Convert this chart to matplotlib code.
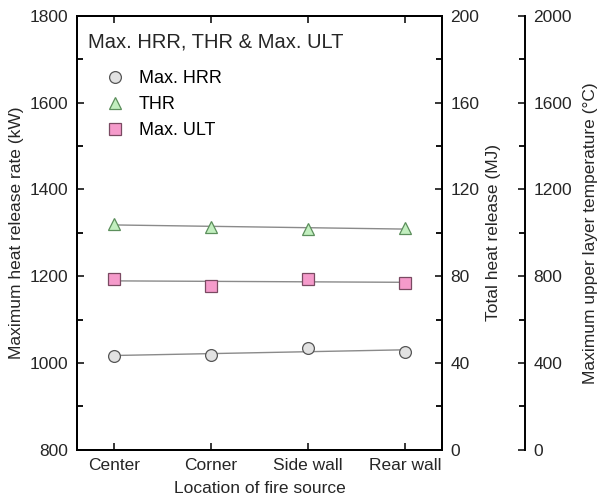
import numpy as np
import matplotlib
matplotlib.use('Agg')
import matplotlib.pyplot as plt
from matplotlib.ticker import MultipleLocator

plt.rcParams['font.family'] = ['Liberation Sans', 'DejaVu Sans']

# data
locations = ['Center', 'Corner', 'Side wall', 'Rear wall']
max_hrr = [1017, 1018, 1035, 1026]   # kW
thr = [104.0, 102.8, 101.8, 102.2]   # MJ
max_ult = [788, 756, 788, 770]       # degC

x = np.arange(len(locations))
txt = '#262626'
fs = 12.5

fig = plt.figure(figsize=(6.0, 4.96), dpi=100)
ax = fig.add_axes([0.128, 0.093, 0.609, 0.875])
ax2 = ax.twinx()
ax3 = ax.twinx()
ax3.spines['right'].set_position(('axes', 1.227))

line_kw = dict(color='#8a8a8a', lw=1.0, zorder=2)

def fit_line(axis, yvals):
    k, b = np.polyfit(x, yvals, 1)
    axis.plot(x, k * x + b, **line_kw)

fit_line(ax, max_hrr)
fit_line(ax2, thr)
fit_line(ax3, max_ult)

h1, = ax.plot(x, max_hrr, 'o', ms=8.5, mfc='#e2e2e2', mec='#555555', mew=0.9,
              ls='none', zorder=3, label='Max. HRR')
h2, = ax2.plot(x, thr, '^', ms=8.5, mfc='#c2efbf', mec='#5c8f5c', mew=0.9,
               ls='none', zorder=3, label='THR')
h3, = ax3.plot(x, max_ult, 's', ms=8.5, mfc='#f59bcb', mec='#7a4a62', mew=0.9,
               ls='none', zorder=3, label='Max. ULT')

ax.set_xlim(-0.38, 3.38)
ax.set_ylim(800, 1800)
ax2.set_ylim(0, 200)
ax3.set_ylim(0, 2000)

ax.set_xticks(x)
ax.set_xticklabels(locations)
ax.yaxis.set_major_locator(MultipleLocator(200))
ax.yaxis.set_minor_locator(MultipleLocator(100))
ax2.yaxis.set_major_locator(MultipleLocator(40))
ax2.yaxis.set_minor_locator(MultipleLocator(20))
ax3.yaxis.set_major_locator(MultipleLocator(400))
ax3.yaxis.set_minor_locator(MultipleLocator(200))

ax.tick_params(axis='x', which='both', direction='in', top=True, length=5,
               width=1.3, labelsize=fs, pad=5.5, colors=txt)
for a in (ax, ax2, ax3):
    a.tick_params(axis='y', which='major', direction='in', length=5, width=1.3,
                  labelsize=fs, pad=6, colors=txt)
    a.tick_params(axis='y', which='minor', direction='in', length=4, width=1.3)
    for s in a.spines.values():
        s.set_linewidth(1.4)
for side in ('left', 'top', 'bottom'):
    ax3.spines[side].set_visible(False)

ax.set_xlabel('Location of fire source', fontsize=fs, labelpad=6, color=txt)
ax.set_ylabel('Maximum heat release rate (kW)', fontsize=fs, labelpad=4, color=txt)
ax2.set_ylabel('Total heat release (MJ)', fontsize=fs, labelpad=5, color=txt)
ax3.set_ylabel('Maximum upper layer temperature (\u00b0C)', fontsize=fs, labelpad=8,
               color=txt)

ax.text(0.03, 0.940, 'Max. HRR, THR & Max. ULT', transform=ax.transAxes,
        fontsize=14.5, ha='left', va='center', color=txt)
ax.legend(handles=[h1, h2, h3], loc='upper left', bbox_to_anchor=(0.081, 0.875),
          frameon=False, fontsize=13, handlelength=1.0, handletextpad=0.8,
          labelspacing=0.5, borderaxespad=0, borderpad=0)

fig.savefig('out.png', dpi=100)
